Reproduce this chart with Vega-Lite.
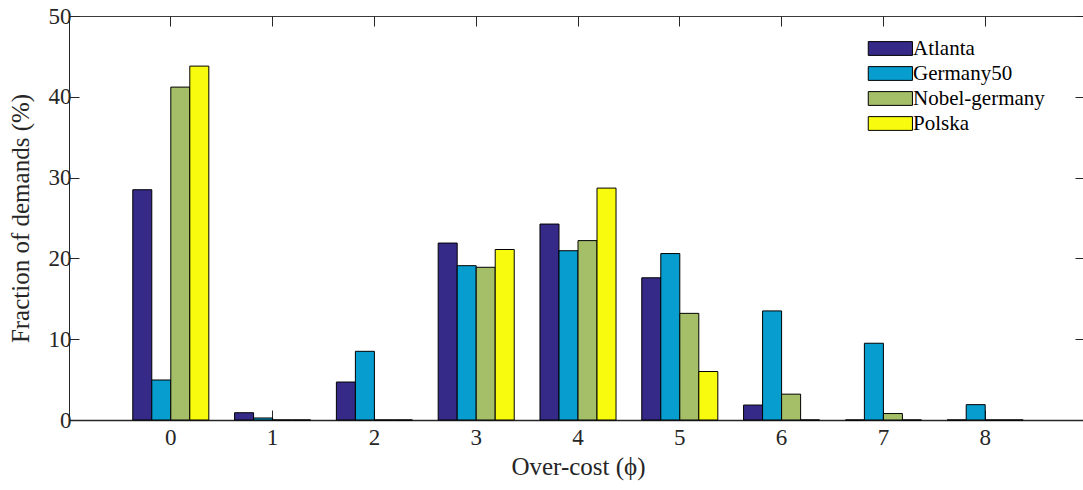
{
  "$schema": "https://vega.github.io/schema/vega-lite/v6.json",
  "width": 1014,
  "height": 404,
  "autosize": {"type": "none"},
  "padding": {"left": 69, "top": 16, "right": 0, "bottom": 70},
  "background": "white",
  "config": {
    "view": {"stroke": "#3a3a3a", "strokeWidth": 1},
    "font": "Liberation Serif",
    "axis": {"grid": false, "labelFont": "Liberation Serif", "titleFont": "Liberation Serif", "labelColor": "#262626", "titleColor": "#262626", "domainColor": "#262626", "tickColor": "#262626", "labelFontSize": 23, "titleFontSize": 25, "titleFontWeight": "normal"}
  },
  "data": {
    "values": [
      {"c": 0, "s": "Atlanta", "v": 28.5},
      {"c": 0, "s": "Germany50", "v": 4.95},
      {"c": 0, "s": "Nobel-germany", "v": 41.2},
      {"c": 0, "s": "Polska", "v": 43.8},
      {"c": 1, "s": "Atlanta", "v": 0.9},
      {"c": 1, "s": "Germany50", "v": 0.25},
      {"c": 1, "s": "Nobel-germany", "v": 0},
      {"c": 1, "s": "Polska", "v": 0},
      {"c": 2, "s": "Atlanta", "v": 4.7},
      {"c": 2, "s": "Germany50", "v": 8.5},
      {"c": 2, "s": "Nobel-germany", "v": 0},
      {"c": 2, "s": "Polska", "v": 0},
      {"c": 3, "s": "Atlanta", "v": 21.9},
      {"c": 3, "s": "Germany50", "v": 19.1},
      {"c": 3, "s": "Nobel-germany", "v": 18.9},
      {"c": 3, "s": "Polska", "v": 21.1},
      {"c": 4, "s": "Atlanta", "v": 24.25},
      {"c": 4, "s": "Germany50", "v": 20.95},
      {"c": 4, "s": "Nobel-germany", "v": 22.2},
      {"c": 4, "s": "Polska", "v": 28.7},
      {"c": 5, "s": "Atlanta", "v": 17.6},
      {"c": 5, "s": "Germany50", "v": 20.6},
      {"c": 5, "s": "Nobel-germany", "v": 13.2},
      {"c": 5, "s": "Polska", "v": 6.0},
      {"c": 6, "s": "Atlanta", "v": 1.85},
      {"c": 6, "s": "Germany50", "v": 13.5},
      {"c": 6, "s": "Nobel-germany", "v": 3.2},
      {"c": 6, "s": "Polska", "v": 0},
      {"c": 7, "s": "Atlanta", "v": 0},
      {"c": 7, "s": "Germany50", "v": 9.5},
      {"c": 7, "s": "Nobel-germany", "v": 0.8},
      {"c": 7, "s": "Polska", "v": 0},
      {"c": 8, "s": "Atlanta", "v": 0},
      {"c": 8, "s": "Germany50", "v": 1.9},
      {"c": 8, "s": "Nobel-germany", "v": 0},
      {"c": 8, "s": "Polska", "v": 0}
    ]
  },
  "layer": [
    {
      "mark": {"type": "bar", "stroke": "black", "strokeWidth": 1},
      "encoding": {
        "x": {
          "field": "c", "type": "ordinal",
          "scale": {"range": [0, 1018], "paddingInner": 0.253, "paddingOuter": 0.6265},
          "axis": {"orient": "bottom", "title": "Over-cost (ϕ)", "labelAngle": 0, "tickSize": -10, "labelPadding": 16, "titlePadding": 5, "domainWidth": 1.5}
        },
        "xOffset": {"field": "s", "type": "nominal", "scale": {"paddingInner": 0, "paddingOuter": 0}},
        "y": {
          "field": "v", "type": "quantitative",
          "scale": {"domain": [0, 50], "nice": false},
          "axis": {"orient": "left", "title": "Fraction of demands (%)", "values": [0, 10, 20, 30, 40, 50], "tickSize": -10, "labelPadding": 8, "titlePadding": 15}
        },
        "color": {
          "field": "s", "type": "nominal",
          "scale": {"domain": ["Atlanta", "Germany50", "Nobel-germany", "Polska"], "range": ["#352a87", "#079dcf", "#a5bf69", "#f9fb0e"]},
          "legend": {
            "title": null, "orient": "none", "legendX": 796, "legendY": 22,
            "padding": 0, "symbolType": "M-1,-0.95H5.1V0.95H-1Z", "symbolSize": 210,
            "symbolStrokeColor": "black", "symbolStrokeWidth": 1, "symbolOpacity": 1,
            "labelFont": "Liberation Serif", "labelFontSize": 21, "labelColor": "#000000",
            "labelOffset": 27, "rowPadding": 3
          }
        }
      }
    },
    {
      "mark": {"type": "bar", "opacity": 0},
      "encoding": {
        "x": {"field": "c", "type": "ordinal", "axis": {"orient": "top", "title": null, "labels": false, "domain": false, "tickSize": -10}},
        "y": {"field": "v", "type": "quantitative", "axis": {"orient": "right", "title": null, "labels": false, "domain": false, "values": [0, 10, 20, 30, 40, 50], "tickSize": -8}}
      }
    }
  ],
  "resolve": {"axis": {"x": "independent", "y": "independent"}}
}
